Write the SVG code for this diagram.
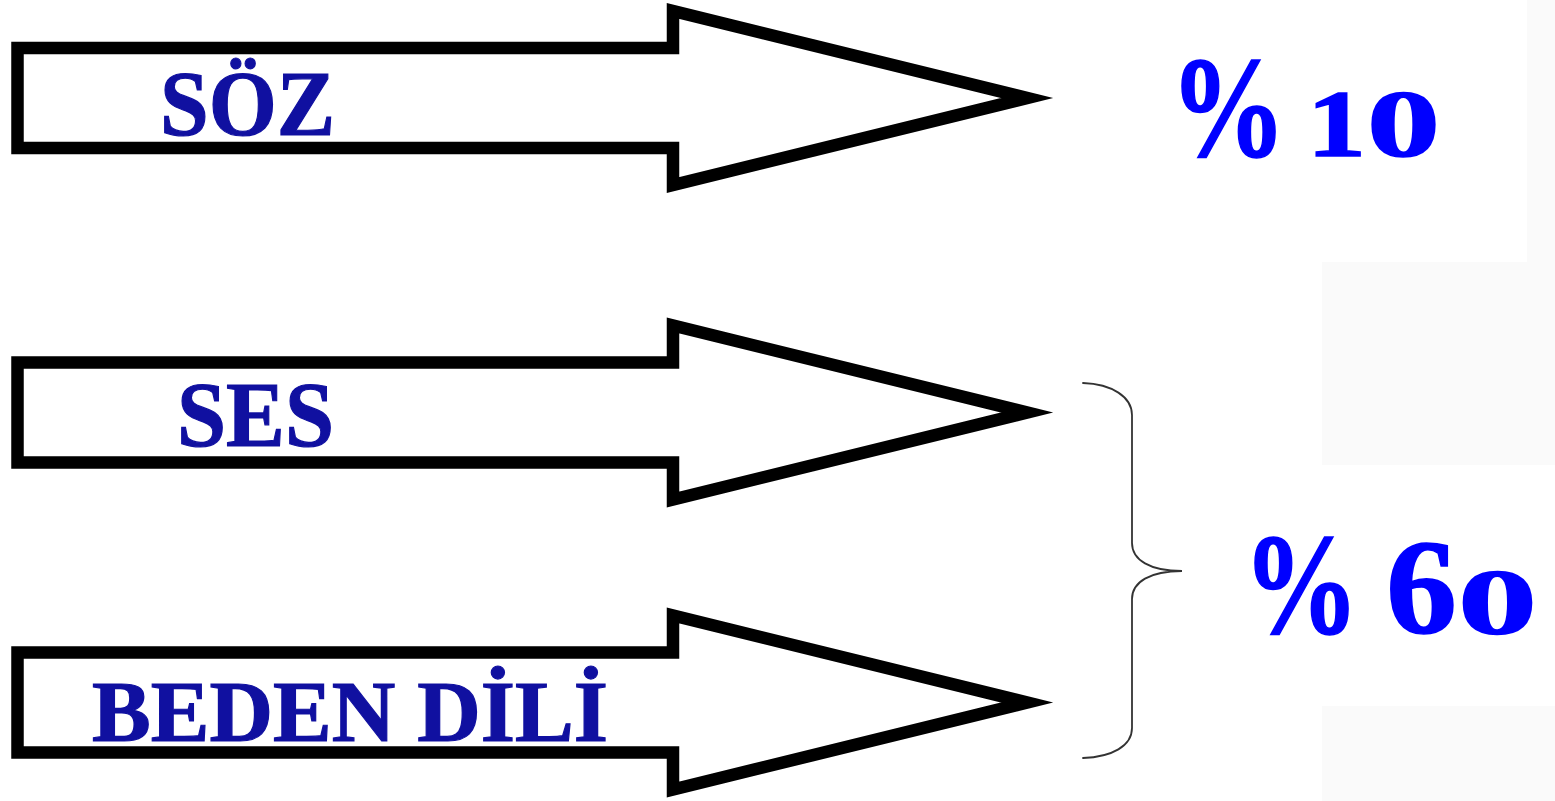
<svg xmlns="http://www.w3.org/2000/svg" xmlns:xlink="http://www.w3.org/1999/xlink" width="1555" height="801" viewBox="0 0 1555 801">
  <style>
    .arrow { fill: #ffffff; stroke: #000000; stroke-width: 12.5; stroke-linejoin: miter; stroke-miterlimit: 6; }
    .label { font-family: "Liberation Serif", "Times New Roman", serif; font-weight: bold; fill: #1010a0; stroke: #1010a0; stroke-width: 1.2; }
    .pct { font-family: "Liberation Serif", "Times New Roman", serif; font-weight: bold; fill: #0000ff; stroke: #0000ff; stroke-width: 1.6; }
    .brace { fill: none; stroke: #333333; stroke-width: 1.8; stroke-linecap: round; }
    .patch { fill: #fafafa; }
  </style>
  <defs>
    <!-- block arrow, centred vertically on y=0 -->
    <path id="blockArrow" class="arrow" d="M17.5,-50 H673 V-87 L1027,0 L673,87 V50 H17.5 Z"/>
  </defs>

  <rect width="1555" height="801" fill="#ffffff"/>
  <rect class="patch" x="1527" y="0" width="28" height="262"/>
  <rect class="patch" x="1322" y="262" width="233" height="203"/>
  <rect class="patch" x="1322" y="706" width="233" height="95"/>

  <g id="node-soz">
    <use xlink:href="#blockArrow" href="#blockArrow" transform="translate(0,98)"/>
    <text class="label" x="160" y="135" font-size="94" textLength="175" lengthAdjust="spacingAndGlyphs">SÖZ</text>
  </g>

  <g id="node-ses">
    <use xlink:href="#blockArrow" href="#blockArrow" transform="translate(0,412.5)"/>
    <text class="label" x="177" y="446" font-size="94" textLength="157" lengthAdjust="spacingAndGlyphs">SES</text>
  </g>

  <g id="node-beden">
    <use xlink:href="#blockArrow" href="#blockArrow" transform="translate(0,702.5)"/>
    <text class="label" x="92" y="741" font-size="86" textLength="516" lengthAdjust="spacingAndGlyphs">BEDEN DİLİ</text>
  </g>

  <g id="connectors">
    <!-- curly brace grouping SES and BEDEN DİLİ -->
    <path class="brace" d="M1083,383 C1112,384 1132,397 1132,415 V543 C1132,560 1150,571 1182,571 C1150,571 1132,582 1132,599 V728 C1132,746 1112,757 1083,758"/>
  </g>

  <!-- percentages: narrowed 0.8 horizontally, digits widened back per glyph -->
  <g id="node-pct10">
    <text class="pct" y="156" transform="scale(0.8,1)"><tspan x="1462.5" font-size="145">%</tspan> <tspan x="1633.75" font-size="95" textLength="73.75" lengthAdjust="spacingAndGlyphs">1</tspan><tspan x="1708.75" font-size="95" textLength="91.25" lengthAdjust="spacingAndGlyphs">0</tspan></text>
  </g>

  <g id="node-pct60">
    <text class="pct" y="633" transform="scale(0.8,1)"><tspan x="1553.75" font-size="145">%</tspan> <tspan x="1732.5" font-size="136" textLength="88.75" lengthAdjust="spacingAndGlyphs">6</tspan><tspan x="1822.5" font-size="93" textLength="98.75" lengthAdjust="spacingAndGlyphs">0</tspan></text>
  </g>
</svg>
